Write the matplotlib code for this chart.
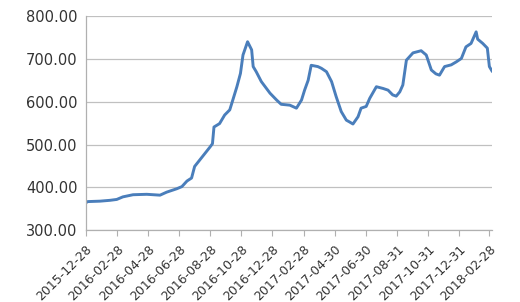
import numpy as np
import pandas as pd
import matplotlib
matplotlib.use("Agg")
import matplotlib.pyplot as plt

# 数据
dates = [
    "2015-12-28", "2016-01-01", "2016-01-25", "2016-02-14", "2016-02-27",
    "2016-03-10", "2016-03-30", "2016-04-26", "2016-05-22", "2016-06-04",
    "2016-06-24", "2016-07-04", "2016-07-14", "2016-07-23", "2016-07-29",
    "2016-08-08", "2016-08-18", "2016-08-28", "2016-09-02", "2016-09-05",
    "2016-09-16", "2016-09-26", "2016-10-06", "2016-10-12", "2016-10-20",
    "2016-10-27", "2016-11-01", "2016-11-10", "2016-11-18", "2016-11-21",
    "2016-11-27", "2016-12-07", "2016-12-24", "2017-01-06", "2017-01-15",
    "2017-02-01", "2017-02-14", "2017-02-24", "2017-03-02", "2017-03-09",
    "2017-03-15", "2017-03-28", "2017-04-04", "2017-04-14", "2017-04-24",
    "2017-05-03", "2017-05-13", "2017-05-23", "2017-05-29", "2017-06-05",
    "2017-06-15", "2017-06-21", "2017-07-01", "2017-07-08", "2017-07-21",
    "2017-08-03", "2017-08-13", "2017-08-22", "2017-08-29", "2017-09-05",
    "2017-09-11", "2017-09-18", "2017-10-01", "2017-10-17", "2017-10-27",
    "2017-11-06", "2017-11-15", "2017-11-22", "2017-12-02", "2017-12-15",
    "2017-12-25", "2018-01-04", "2018-01-13", "2018-01-23", "2018-02-02",
    "2018-02-05", "2018-02-15", "2018-02-24", "2018-02-28", "2018-03-05",
]
values = [
    364, 367, 368, 370, 372,
    378, 383, 384, 382, 389,
    397, 402, 415, 422, 449,
    464, 479, 494, 502, 541,
    549, 569, 581, 604, 635,
    666, 709, 740, 721, 682,
    670, 647, 620, 604, 594,
    592, 585, 604, 627, 650,
    685, 682, 678, 670, 647,
    612, 577, 557, 553, 548,
    565, 585, 589, 608, 635,
    631, 627, 616, 613, 623,
    639, 697, 714, 719, 709,
    674, 665, 662, 682, 686,
    693, 701, 728, 736, 763,
    746, 736, 725, 682, 672,
]
tick_labels = [
    "2015-12-28", "2016-02-28", "2016-04-28", "2016-06-28", "2016-08-28",
    "2016-10-28", "2016-12-28", "2017-02-28", "2017-04-30", "2017-06-30",
    "2017-08-31", "2017-10-31", "2017-12-31", "2018-02-28",
]
y_ticks = [300, 400, 500, 600, 700, 800]

x = pd.to_datetime(dates)
xt = pd.to_datetime(tick_labels)

plt.rcParams["font.family"] = ["DejaVu Sans"]
fig = plt.figure(figsize=(5.2, 3.02), dpi=100)
ax = fig.add_axes([0.1648, 0.2374, 0.946 - 0.1648, 0.947 - 0.2374])

ax.plot(x, values, color="#4a7ebb", linewidth=2.1, solid_joinstyle="round")

ax.set_ylim(300, 800)
ax.set_yticks(y_ticks)
ax.set_yticklabels([f"{v:.2f}" for v in y_ticks])
ax.set_xlim(x[0], x[-1])
ax.set_xticks(xt)
ax.set_xticklabels(tick_labels, rotation=45, ha="right", rotation_mode="anchor")

ax.grid(axis="y", color="#c0c0c0", linewidth=0.9)
ax.set_axisbelow(True)
for s in ["top", "right"]:
    ax.spines[s].set_visible(False)
for s in ["left", "bottom"]:
    ax.spines[s].set_color("#b0b0b0")
    ax.spines[s].set_linewidth(0.9)
ax.tick_params(axis="y", length=0, pad=6, labelsize=10.5, labelcolor="#333333")
ax.tick_params(axis="x", length=4, color="#b0b0b0", pad=5, labelsize=9, labelcolor="#333333")

fig.savefig("out.png", dpi=100)
